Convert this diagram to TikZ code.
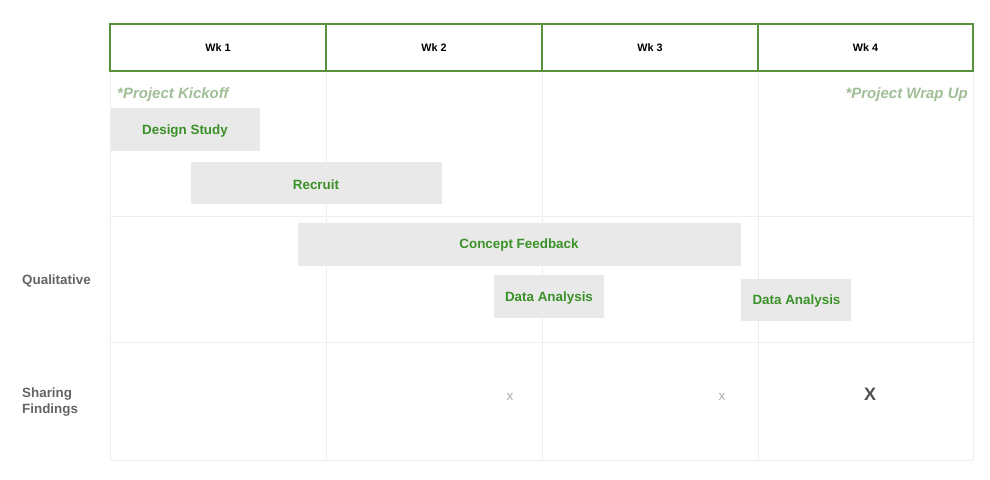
\documentclass[tikz,border=0pt]{standalone}
\usepackage{fontspec}
\setmainfont{Liberation Sans}
\definecolor{hdrgreen}{RGB}{88,145,62}
\definecolor{gridgray}{RGB}{238,238,238}
\definecolor{barfill}{RGB}{233,233,233}
\definecolor{bartext}{RGB}{58,145,40}
\definecolor{notegreen}{RGB}{160,190,150}
\definecolor{rowlabel}{RGB}{100,100,100}
\definecolor{xlight}{RGB}{170,170,170}
\definecolor{xdark}{RGB}{80,80,80}
\tikzset{
  hdrcell/.style={draw=hdrgreen, line width=1.3pt, minimum height=47pt, inner sep=0pt, font=\fontsize{10.8}{12}\selectfont\bfseries},
  gridline/.style={draw=gridgray, line width=1pt},
  bar/.style={fill=barfill, inner sep=0pt, anchor=north west},
  bartxt/.style={text=bartext, inner sep=0pt, font=\fontsize{13.4}{15}\selectfont\bfseries},
  note/.style={text=notegreen, font=\fontsize{15}{16}\selectfont\bfseries\itshape, inner sep=0pt},
  rowlab/.style={text=rowlabel, font=\fontsize{13.4}{16}\selectfont\bfseries, inner sep=0pt, anchor=west, align=left},
}
\begin{document}
\begin{tikzpicture}[x=1pt,y=-1pt]
\useasboundingbox (0,0) rectangle (990,479);
% grid
\foreach \x in {110,326,542,758,973} \draw[gridline] (\x,71) -- (\x,460);
\foreach \y in {216,342,460} \draw[gridline] (110,\y) -- (973,\y);
% bars
\node[bar, minimum width=149pt, minimum height=43pt] (ds) at (111,108) {};
\node[bartxt] (dst) at (185,131) {Design Study};
\node[bar, minimum width=251pt, minimum height=42pt] (rc) at (191,162) {};
\node[bartxt] (rct) at (316,184.5) {Recruit};
\node[bar, minimum width=443pt, minimum height=43pt] (cf) at (298,223) {};
\node[bartxt] (cft) at (519,245.5) {Concept Feedback};
\node[bar, minimum width=110pt, minimum height=43pt] (da1) at (494,275) {};
\node[bartxt] (da1t) at (549,298.5) {Data Analysis};
\node[bar, minimum width=110pt, minimum height=42pt] (da2) at (741,279) {};
\node[bartxt] (da2t) at (796.5,301.5) {Data Analysis};
% header
\node[hdrcell, minimum width=216pt] (w1) at (218,47.5) {Wk 1};
\node[hdrcell, minimum width=216pt] (w2) at (434,47.5) {Wk 2};
\node[hdrcell, minimum width=216pt] (w3) at (650,47.5) {Wk 3};
\node[hdrcell, minimum width=215pt] (w4) at (865.5,47.5) {Wk 4};
% notes
\node[note, anchor=west] (kick) at (117,94.5) {*Project Kickoff};
\node[note, anchor=east] (wrap) at (968,94.5) {*Project Wrap Up};
% row labels
\node[rowlab] (qual) at (22,281) {Qualitative};
\node[rowlab] (share) at (22,402.5) {Sharing\\Findings};
% marks
\node[text=xlight, font=\fontsize{13.5}{14}\selectfont, inner sep=0pt] (x1) at (510,397) {x};
\node[text=xlight, font=\fontsize{13.5}{14}\selectfont, inner sep=0pt] (x2) at (722,397) {x};
\node[text=xdark, font=\fontsize{18}{20}\selectfont\bfseries, inner sep=0pt] (x3) at (870,394) {X};
\end{tikzpicture}
\end{document}
